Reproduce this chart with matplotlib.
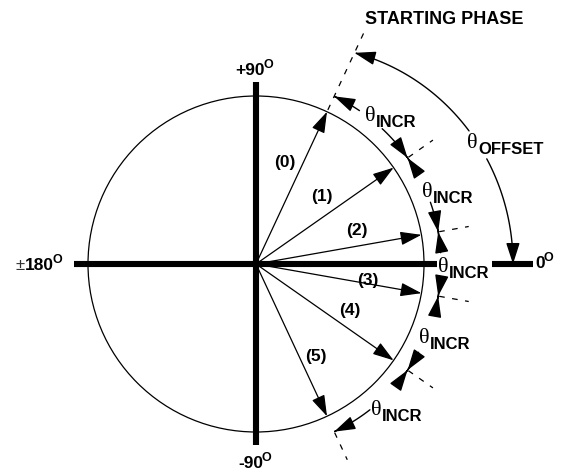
import numpy as np
import matplotlib
matplotlib.use("Agg")
import matplotlib.pyplot as plt
from matplotlib.patches import Circle, FancyArrowPatch
from matplotlib.path import Path

plt.rcParams["font.family"] = ["Liberation Sans", "DejaVu Sans"]

# phase vectors (degrees from 0) and their labels
phase_deg = [65, 35, 10, -10, -35, -65]
phase_labels = ["(0)", "(1)", "(2)", "(3)", "(4)", "(5)"]
phase_label_xy = [(29, 101), (66, 67), (101, 33), (112, -17), (94, -47), (60, -92)]

# theta_INCR labels and the gap each arc leaves for its label
incr_label_xy = [(110, 143), (167, 67), (183, -8), (164, -79), (116, -151)]
incr_gaps = [(56, 47), (29.5, 19.5), (3.5, -4.5), (-16, -28.5), (-41, -52)]

# theta_OFFSET: from the starting phase down to 0 deg
offset_from, offset_to = 65, 0
offset_gap = (32, 24.5)
offset_label_xy = (212, 116)

R = 168          # unit circle radius (px)
R_INCR = 185     # radius of the increment arcs
HEAD = "-|>,head_length=13,head_width=4.2"


def pol(r, a):
    t = np.radians(a)
    return r * np.cos(t), r * np.sin(t)


def arc_arrow(ax, a0, a1, rfun):
    a = np.linspace(a0, a1, 80)
    r = rfun(a)
    pts = np.column_stack([r * np.cos(np.radians(a)), r * np.sin(np.radians(a))])
    ax.add_patch(FancyArrowPatch(path=Path(pts), arrowstyle=HEAD, mutation_scale=1,
                                 lw=1.0, color="black"))


def theta_label(ax, x, y, sub):
    ax.text(x - 1, y, "\u03b8", family="Liberation Serif", fontsize=16,
            ha="left", va="baseline")
    ax.text(x + 10, y - 6, sub, fontsize=12, fontweight="bold",
            ha="left", va="baseline")


def deg_label(ax, x, y, s, pm=False):
    if pm:
        t0 = ax.text(x, y, "\u00b1", fontsize=12, color="#333333", ha="left", va="baseline")
        t = ax.annotate(s, xy=(1, 0), xycoords=t0, xytext=(0.5, 0), textcoords="offset points",
                        fontsize=12.5, fontweight="bold", ha="left", va="bottom")
    else:
        t = ax.text(x, y, s, fontsize=12.5, fontweight="bold", ha="left", va="baseline")
    ax.annotate("O", xy=(1, 1), xycoords=t, xytext=(-0.8, 3), textcoords="offset points",
                fontsize=9, fontweight="bold", ha="left", va="top")


fig = plt.figure(figsize=(5.64, 4.72), dpi=100)
ax = fig.add_axes([0, 0, 1, 1])
ax.set_xlim(-256, 308)
ax.set_ylim(-208, 264)
ax.set_aspect("equal")
ax.axis("off")

# axes of the phase plane
ax.plot([-182, 181], [0, 0], color="black", lw=4.4, solid_capstyle="butt")
ax.plot([0, 0], [-181, 182], color="black", lw=4.4, solid_capstyle="butt")
ax.plot([236, 277], [0, 0], color="black", lw=4.4, solid_capstyle="butt")

ax.add_patch(Circle((0, 0), R, fill=False, lw=0.9, color="black"))

# phase vectors
for a, lab, (lx, ly) in zip(phase_deg, phase_labels, phase_label_xy):
    ax.add_patch(FancyArrowPatch((0, 0), pol(R, a), arrowstyle=HEAD, mutation_scale=1,
                                 lw=0.9, color="black", shrinkA=0, shrinkB=0))
    ax.text(lx, ly, lab, fontsize=12.5, fontweight="bold", ha="center", va="center")

# dashed phase ticks
x0, y0 = pol(170, phase_deg[0])
x1, y1 = pol(258, phase_deg[0])
ax.plot([x0, x1], [y0, y1], color="black", lw=0.9, ls=(0, (4.5, 6)))
for a in phase_deg[1:]:
    x0, y0 = pol(186, a)
    x1, y1 = pol(216, a)
    ax.plot([x0, x1], [y0, y1], color="black", lw=0.9, ls=(0, (4.5, 6)))

# increment arcs
const_r = lambda a: np.full_like(a, R_INCR, dtype=float)
for (a_hi, a_lo), (g_hi, g_lo), (lx, ly) in zip(zip(phase_deg[:-1], phase_deg[1:]),
                                                incr_gaps, incr_label_xy):
    arc_arrow(ax, g_hi, a_hi, const_r)
    arc_arrow(ax, g_lo, a_lo, const_r)
    theta_label(ax, lx, ly, "INCR")

# offset arc
off_r = lambda a: 257 - 24 * (np.asarray(a) / 65.0) ** 2
arc_arrow(ax, offset_gap[0], offset_from, off_r)
arc_arrow(ax, offset_gap[1], offset_to, off_r)
theta_label(ax, offset_label_xy[0], offset_label_xy[1], "OFFSET")

ax.text(109, 240, "STARTING PHASE", fontsize=13, fontweight="bold", ha="left", va="baseline")

deg_label(ax, -21, 189, "+90")
deg_label(ax, -18, -204, "-90")
deg_label(ax, -241, -6, "180", pm=True)
deg_label(ax, 279, -4, "0")

fig.savefig("out.png", dpi=100)
